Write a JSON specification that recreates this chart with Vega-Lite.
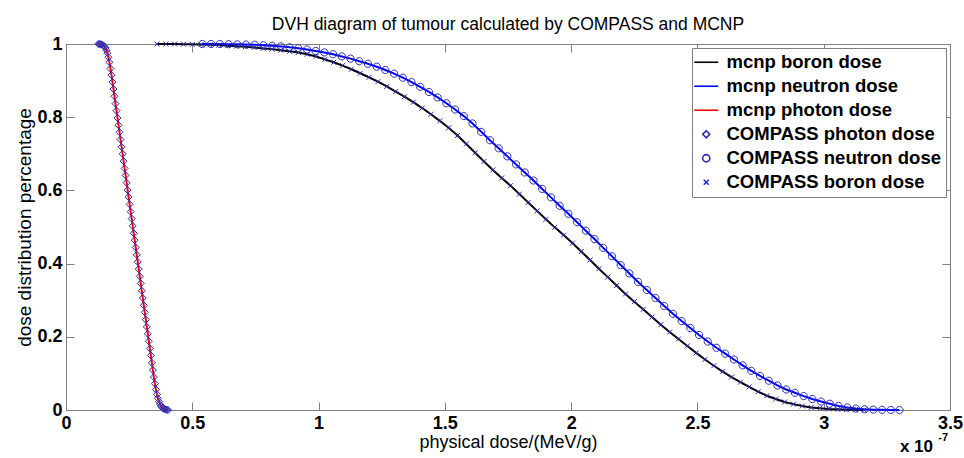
{
  "$schema": "https://vega.github.io/schema/vega-lite/v6.json",
  "width": 884,
  "height": 366,
  "autosize": "none",
  "padding": {"left": 66, "top": 44, "right": 14, "bottom": 48},
  "background": "white",
  "title": {"text": "DVH diagram of tumour calculated by COMPASS and MCNP", "font": "Liberation Sans", "fontSize": 17.5, "fontWeight": "normal", "color": "#000", "anchor": "middle", "offset": 2},
  "config": {
    "view": {"stroke": "#808080", "strokeWidth": 1},
    "axis": {"grid": false, "domainColor": "#808080", "tickColor": "#808080", "labelFont": "Liberation Sans", "labelFontWeight": "bold", "labelFontSize": 18, "labelColor": "#000", "titleFont": "Liberation Sans", "titleFontWeight": "normal", "titleFontSize": 18, "titleColor": "#000", "labelFlush": false},
    "legend": {"orient": "top-right", "offset": 4, "strokeColor": "#808080", "fillColor": "#ffffff", "padding": 5, "labelFont": "Liberation Sans", "labelFontWeight": "bold", "labelFontSize": 18.5, "labelColor": "#000", "labelOffset": 11, "rowPadding": 5, "cornerRadius": 0, "labelLimit": 400, "symbolSize": 100, "symbolStrokeWidth": 1.6}
  },
  "data": {"name": "dvh"},
  "datasets": {
    "dvh": [
      {"curve": "photon", "dose": 0.128, "frac": 1},
      {"curve": "photon", "dose": 0.132, "frac": 1},
      {"curve": "photon", "dose": 0.136, "frac": 0.9995},
      {"curve": "photon", "dose": 0.140, "frac": 0.999},
      {"curve": "photon", "dose": 0.144, "frac": 0.998},
      {"curve": "photon", "dose": 0.148, "frac": 0.996},
      {"curve": "photon", "dose": 0.152, "frac": 0.993},
      {"curve": "photon", "dose": 0.156, "frac": 0.989},
      {"curve": "photon", "dose": 0.160, "frac": 0.983},
      {"curve": "photon", "dose": 0.164, "frac": 0.975},
      {"curve": "photon", "dose": 0.168, "frac": 0.964},
      {"curve": "photon", "dose": 0.172, "frac": 0.950},
      {"curve": "photon", "dose": 0.176, "frac": 0.933},
      {"curve": "photon", "dose": 0.180, "frac": 0.915},
      {"curve": "photon", "dose": 0.184, "frac": 0.896},
      {"curve": "photon", "dose": 0.188, "frac": 0.877},
      {"curve": "photon", "dose": 0.192, "frac": 0.857},
      {"curve": "photon", "dose": 0.196, "frac": 0.837},
      {"curve": "photon", "dose": 0.200, "frac": 0.818},
      {"curve": "photon", "dose": 0.204, "frac": 0.798},
      {"curve": "photon", "dose": 0.208, "frac": 0.778},
      {"curve": "photon", "dose": 0.212, "frac": 0.759},
      {"curve": "photon", "dose": 0.216, "frac": 0.739},
      {"curve": "photon", "dose": 0.220, "frac": 0.719},
      {"curve": "photon", "dose": 0.224, "frac": 0.700},
      {"curve": "photon", "dose": 0.228, "frac": 0.680},
      {"curve": "photon", "dose": 0.232, "frac": 0.660},
      {"curve": "photon", "dose": 0.236, "frac": 0.641},
      {"curve": "photon", "dose": 0.240, "frac": 0.621},
      {"curve": "photon", "dose": 0.244, "frac": 0.601},
      {"curve": "photon", "dose": 0.248, "frac": 0.582},
      {"curve": "photon", "dose": 0.252, "frac": 0.562},
      {"curve": "photon", "dose": 0.256, "frac": 0.542},
      {"curve": "photon", "dose": 0.260, "frac": 0.523},
      {"curve": "photon", "dose": 0.264, "frac": 0.503},
      {"curve": "photon", "dose": 0.268, "frac": 0.483},
      {"curve": "photon", "dose": 0.272, "frac": 0.464},
      {"curve": "photon", "dose": 0.276, "frac": 0.444},
      {"curve": "photon", "dose": 0.280, "frac": 0.424},
      {"curve": "photon", "dose": 0.284, "frac": 0.405},
      {"curve": "photon", "dose": 0.288, "frac": 0.385},
      {"curve": "photon", "dose": 0.292, "frac": 0.365},
      {"curve": "photon", "dose": 0.296, "frac": 0.346},
      {"curve": "photon", "dose": 0.300, "frac": 0.326},
      {"curve": "photon", "dose": 0.304, "frac": 0.306},
      {"curve": "photon", "dose": 0.308, "frac": 0.286},
      {"curve": "photon", "dose": 0.312, "frac": 0.267},
      {"curve": "photon", "dose": 0.316, "frac": 0.247},
      {"curve": "photon", "dose": 0.320, "frac": 0.227},
      {"curve": "photon", "dose": 0.324, "frac": 0.208},
      {"curve": "photon", "dose": 0.328, "frac": 0.188},
      {"curve": "photon", "dose": 0.332, "frac": 0.168},
      {"curve": "photon", "dose": 0.336, "frac": 0.149},
      {"curve": "photon", "dose": 0.340, "frac": 0.129},
      {"curve": "photon", "dose": 0.344, "frac": 0.109},
      {"curve": "photon", "dose": 0.348, "frac": 0.090},
      {"curve": "photon", "dose": 0.352, "frac": 0.072},
      {"curve": "photon", "dose": 0.356, "frac": 0.056},
      {"curve": "photon", "dose": 0.360, "frac": 0.043},
      {"curve": "photon", "dose": 0.364, "frac": 0.032},
      {"curve": "photon", "dose": 0.368, "frac": 0.023},
      {"curve": "photon", "dose": 0.372, "frac": 0.016},
      {"curve": "photon", "dose": 0.376, "frac": 0.011},
      {"curve": "photon", "dose": 0.380, "frac": 0.008},
      {"curve": "photon", "dose": 0.384, "frac": 0.005},
      {"curve": "photon", "dose": 0.388, "frac": 0.003},
      {"curve": "photon", "dose": 0.392, "frac": 0.002},
      {"curve": "photon", "dose": 0.396, "frac": 0.001},
      {"curve": "photon", "dose": 0.400, "frac": 0.0005},
      {"curve": "photon", "dose": 0.404, "frac": 0},
      {"curve": "neutron", "dose": 0.540, "frac": 1},
      {"curve": "neutron", "dose": 0.5745, "frac": 1},
      {"curve": "neutron", "dose": 0.609, "frac": 1},
      {"curve": "neutron", "dose": 0.6435, "frac": 0.9995},
      {"curve": "neutron", "dose": 0.678, "frac": 0.999},
      {"curve": "neutron", "dose": 0.7125, "frac": 0.9985},
      {"curve": "neutron", "dose": 0.747, "frac": 0.998},
      {"curve": "neutron", "dose": 0.7815, "frac": 0.9967},
      {"curve": "neutron", "dose": 0.816, "frac": 0.9952},
      {"curve": "neutron", "dose": 0.8505, "frac": 0.9935},
      {"curve": "neutron", "dose": 0.885, "frac": 0.991},
      {"curve": "neutron", "dose": 0.9195, "frac": 0.9885},
      {"curve": "neutron", "dose": 0.954, "frac": 0.985},
      {"curve": "neutron", "dose": 0.9885, "frac": 0.981},
      {"curve": "neutron", "dose": 1.023, "frac": 0.977},
      {"curve": "neutron", "dose": 1.0575, "frac": 0.972},
      {"curve": "neutron", "dose": 1.092, "frac": 0.966},
      {"curve": "neutron", "dose": 1.1265, "frac": 0.960},
      {"curve": "neutron", "dose": 1.161, "frac": 0.953},
      {"curve": "neutron", "dose": 1.1955, "frac": 0.946},
      {"curve": "neutron", "dose": 1.230, "frac": 0.938},
      {"curve": "neutron", "dose": 1.2645, "frac": 0.929},
      {"curve": "neutron", "dose": 1.299, "frac": 0.919},
      {"curve": "neutron", "dose": 1.3335, "frac": 0.908},
      {"curve": "neutron", "dose": 1.368, "frac": 0.896},
      {"curve": "neutron", "dose": 1.4025, "frac": 0.883},
      {"curve": "neutron", "dose": 1.437, "frac": 0.869},
      {"curve": "neutron", "dose": 1.4715, "frac": 0.854},
      {"curve": "neutron", "dose": 1.506, "frac": 0.838},
      {"curve": "neutron", "dose": 1.5405, "frac": 0.821},
      {"curve": "neutron", "dose": 1.575, "frac": 0.803},
      {"curve": "neutron", "dose": 1.6095, "frac": 0.783},
      {"curve": "neutron", "dose": 1.644, "frac": 0.760},
      {"curve": "neutron", "dose": 1.6785, "frac": 0.737},
      {"curve": "neutron", "dose": 1.713, "frac": 0.715},
      {"curve": "neutron", "dose": 1.7475, "frac": 0.693},
      {"curve": "neutron", "dose": 1.782, "frac": 0.671},
      {"curve": "neutron", "dose": 1.8165, "frac": 0.649},
      {"curve": "neutron", "dose": 1.851, "frac": 0.627},
      {"curve": "neutron", "dose": 1.8855, "frac": 0.604},
      {"curve": "neutron", "dose": 1.920, "frac": 0.581},
      {"curve": "neutron", "dose": 1.9545, "frac": 0.558},
      {"curve": "neutron", "dose": 1.989, "frac": 0.536},
      {"curve": "neutron", "dose": 2.0235, "frac": 0.513},
      {"curve": "neutron", "dose": 2.058, "frac": 0.490},
      {"curve": "neutron", "dose": 2.0925, "frac": 0.467},
      {"curve": "neutron", "dose": 2.127, "frac": 0.443},
      {"curve": "neutron", "dose": 2.1615, "frac": 0.420},
      {"curve": "neutron", "dose": 2.196, "frac": 0.396},
      {"curve": "neutron", "dose": 2.2305, "frac": 0.373},
      {"curve": "neutron", "dose": 2.265, "frac": 0.350},
      {"curve": "neutron", "dose": 2.2995, "frac": 0.328},
      {"curve": "neutron", "dose": 2.334, "frac": 0.306},
      {"curve": "neutron", "dose": 2.3685, "frac": 0.284},
      {"curve": "neutron", "dose": 2.403, "frac": 0.263},
      {"curve": "neutron", "dose": 2.4375, "frac": 0.243},
      {"curve": "neutron", "dose": 2.472, "frac": 0.224},
      {"curve": "neutron", "dose": 2.5065, "frac": 0.205},
      {"curve": "neutron", "dose": 2.541, "frac": 0.187},
      {"curve": "neutron", "dose": 2.5755, "frac": 0.170},
      {"curve": "neutron", "dose": 2.610, "frac": 0.154},
      {"curve": "neutron", "dose": 2.6445, "frac": 0.138},
      {"curve": "neutron", "dose": 2.679, "frac": 0.122},
      {"curve": "neutron", "dose": 2.7135, "frac": 0.107},
      {"curve": "neutron", "dose": 2.748, "frac": 0.093},
      {"curve": "neutron", "dose": 2.7825, "frac": 0.080},
      {"curve": "neutron", "dose": 2.817, "frac": 0.067},
      {"curve": "neutron", "dose": 2.8515, "frac": 0.056},
      {"curve": "neutron", "dose": 2.886, "frac": 0.047},
      {"curve": "neutron", "dose": 2.9205, "frac": 0.038},
      {"curve": "neutron", "dose": 2.955, "frac": 0.030},
      {"curve": "neutron", "dose": 2.9895, "frac": 0.023},
      {"curve": "neutron", "dose": 3.024, "frac": 0.017},
      {"curve": "neutron", "dose": 3.0585, "frac": 0.011},
      {"curve": "neutron", "dose": 3.093, "frac": 0.007},
      {"curve": "neutron", "dose": 3.1275, "frac": 0.004},
      {"curve": "neutron", "dose": 3.162, "frac": 0.002},
      {"curve": "neutron", "dose": 3.1965, "frac": 0.001},
      {"curve": "neutron", "dose": 3.231, "frac": 0.0005},
      {"curve": "neutron", "dose": 3.2655, "frac": 0.0002},
      {"curve": "neutron", "dose": 3.300, "frac": 0},
      {"curve": "boron", "dose": 0.360, "frac": 1},
      {"curve": "boron", "dose": 0.395, "frac": 1},
      {"curve": "boron", "dose": 0.430, "frac": 1},
      {"curve": "boron", "dose": 0.465, "frac": 0.9995},
      {"curve": "boron", "dose": 0.500, "frac": 0.999},
      {"curve": "boron", "dose": 0.535, "frac": 0.9985},
      {"curve": "boron", "dose": 0.570, "frac": 0.9978},
      {"curve": "boron", "dose": 0.605, "frac": 0.997},
      {"curve": "boron", "dose": 0.640, "frac": 0.9955},
      {"curve": "boron", "dose": 0.675, "frac": 0.994},
      {"curve": "boron", "dose": 0.710, "frac": 0.9925},
      {"curve": "boron", "dose": 0.745, "frac": 0.9905},
      {"curve": "boron", "dose": 0.780, "frac": 0.988},
      {"curve": "boron", "dose": 0.815, "frac": 0.986},
      {"curve": "boron", "dose": 0.850, "frac": 0.983},
      {"curve": "boron", "dose": 0.885, "frac": 0.980},
      {"curve": "boron", "dose": 0.920, "frac": 0.977},
      {"curve": "boron", "dose": 0.955, "frac": 0.972},
      {"curve": "boron", "dose": 0.990, "frac": 0.966},
      {"curve": "boron", "dose": 1.025, "frac": 0.958},
      {"curve": "boron", "dose": 1.060, "frac": 0.950},
      {"curve": "boron", "dose": 1.095, "frac": 0.941},
      {"curve": "boron", "dose": 1.130, "frac": 0.931},
      {"curve": "boron", "dose": 1.165, "frac": 0.920},
      {"curve": "boron", "dose": 1.200, "frac": 0.909},
      {"curve": "boron", "dose": 1.235, "frac": 0.897},
      {"curve": "boron", "dose": 1.270, "frac": 0.884},
      {"curve": "boron", "dose": 1.305, "frac": 0.870},
      {"curve": "boron", "dose": 1.340, "frac": 0.856},
      {"curve": "boron", "dose": 1.375, "frac": 0.841},
      {"curve": "boron", "dose": 1.410, "frac": 0.825},
      {"curve": "boron", "dose": 1.445, "frac": 0.808},
      {"curve": "boron", "dose": 1.480, "frac": 0.790},
      {"curve": "boron", "dose": 1.515, "frac": 0.771},
      {"curve": "boron", "dose": 1.550, "frac": 0.750},
      {"curve": "boron", "dose": 1.585, "frac": 0.727},
      {"curve": "boron", "dose": 1.620, "frac": 0.703},
      {"curve": "boron", "dose": 1.655, "frac": 0.679},
      {"curve": "boron", "dose": 1.690, "frac": 0.656},
      {"curve": "boron", "dose": 1.725, "frac": 0.634},
      {"curve": "boron", "dose": 1.760, "frac": 0.613},
      {"curve": "boron", "dose": 1.795, "frac": 0.590},
      {"curve": "boron", "dose": 1.830, "frac": 0.567},
      {"curve": "boron", "dose": 1.865, "frac": 0.544},
      {"curve": "boron", "dose": 1.900, "frac": 0.521},
      {"curve": "boron", "dose": 1.935, "frac": 0.499},
      {"curve": "boron", "dose": 1.970, "frac": 0.478},
      {"curve": "boron", "dose": 2.005, "frac": 0.456},
      {"curve": "boron", "dose": 2.040, "frac": 0.433},
      {"curve": "boron", "dose": 2.075, "frac": 0.410},
      {"curve": "boron", "dose": 2.110, "frac": 0.386},
      {"curve": "boron", "dose": 2.145, "frac": 0.363},
      {"curve": "boron", "dose": 2.180, "frac": 0.340},
      {"curve": "boron", "dose": 2.215, "frac": 0.317},
      {"curve": "boron", "dose": 2.250, "frac": 0.296},
      {"curve": "boron", "dose": 2.285, "frac": 0.275},
      {"curve": "boron", "dose": 2.320, "frac": 0.254},
      {"curve": "boron", "dose": 2.355, "frac": 0.233},
      {"curve": "boron", "dose": 2.390, "frac": 0.213},
      {"curve": "boron", "dose": 2.425, "frac": 0.194},
      {"curve": "boron", "dose": 2.460, "frac": 0.175},
      {"curve": "boron", "dose": 2.495, "frac": 0.156},
      {"curve": "boron", "dose": 2.530, "frac": 0.138},
      {"curve": "boron", "dose": 2.565, "frac": 0.121},
      {"curve": "boron", "dose": 2.600, "frac": 0.105},
      {"curve": "boron", "dose": 2.635, "frac": 0.090},
      {"curve": "boron", "dose": 2.670, "frac": 0.076},
      {"curve": "boron", "dose": 2.705, "frac": 0.063},
      {"curve": "boron", "dose": 2.740, "frac": 0.050},
      {"curve": "boron", "dose": 2.775, "frac": 0.039},
      {"curve": "boron", "dose": 2.810, "frac": 0.030},
      {"curve": "boron", "dose": 2.845, "frac": 0.022},
      {"curve": "boron", "dose": 2.880, "frac": 0.016},
      {"curve": "boron", "dose": 2.915, "frac": 0.011},
      {"curve": "boron", "dose": 2.950, "frac": 0.007},
      {"curve": "boron", "dose": 2.985, "frac": 0.005},
      {"curve": "boron", "dose": 3.020, "frac": 0.003},
      {"curve": "boron", "dose": 3.055, "frac": 0.002},
      {"curve": "boron", "dose": 3.090, "frac": 0.001},
      {"curve": "boron", "dose": 3.125, "frac": 0.0005},
      {"curve": "boron", "dose": 3.160, "frac": 0}
    ]
  },
  "layer": [
    {
      "transform": [{"filter": "datum.curve === 'boron'"}],
      "mark": {"type": "line", "strokeWidth": 2},
      "encoding": {
        "x": {"field": "dose", "type": "quantitative", "scale": {"domain": [0, 3.5], "nice": false, "zero": false},
              "axis": {"orient": "bottom", "values": [0, 0.5, 1, 1.5, 2, 2.5, 3, 3.5], "format": "~g", "tickSize": -8, "labelPadding": 12, "title": "physical dose/(MeV/g)", "titlePadding": 1}},
        "y": {"field": "frac", "type": "quantitative", "scale": {"domain": [0, 1], "nice": false, "zero": false},
              "axis": {"orient": "left", "values": [0, 0.2, 0.4, 0.6, 0.8, 1], "format": "~g", "tickSize": -8, "labelPadding": 12, "title": "dose distribution percentage", "titlePadding": 2, "titleFontSize": 19}},
        "color": {"datum": "mcnp boron dose", "type": "nominal",
                  "scale": {"domain": ["mcnp boron dose", "mcnp neutron dose", "mcnp photon dose", "COMPASS photon dose", "COMPASS neutron dose", "COMPASS boron dose"],
                            "range": ["#000000", "#0000ff", "#ff0000", "#2b2bb8", "#2b2bb8", "#2b2bb8"]},
                  "legend": {"title": null}}
      }
    },
    {
      "transform": [{"filter": "datum.curve === 'neutron'"}],
      "mark": {"type": "line", "strokeWidth": 2},
      "encoding": {
        "x": {"field": "dose", "type": "quantitative", "axis": null},
        "y": {"field": "frac", "type": "quantitative", "axis": null},
        "color": {"datum": "mcnp neutron dose", "type": "nominal"}
      }
    },
    {
      "transform": [{"filter": "datum.curve === 'photon'"}],
      "mark": {"type": "line", "strokeWidth": 2},
      "encoding": {
        "x": {"field": "dose", "type": "quantitative", "axis": null},
        "y": {"field": "frac", "type": "quantitative", "axis": null},
        "color": {"datum": "mcnp photon dose", "type": "nominal"}
      }
    },
    {
      "transform": [{"filter": "datum.curve === 'photon'"}],
      "mark": {"type": "point", "filled": false, "opacity": 1, "size": 100, "strokeWidth": 1},
      "encoding": {
        "x": {"field": "dose", "type": "quantitative", "axis": null},
        "y": {"field": "frac", "type": "quantitative", "axis": null},
        "color": {"datum": "COMPASS photon dose", "type": "nominal"},
        "shape": {"datum": "COMPASS photon dose", "type": "nominal",
                  "scale": {"domain": ["mcnp boron dose", "mcnp neutron dose", "mcnp photon dose", "COMPASS photon dose", "COMPASS neutron dose", "COMPASS boron dose"],
                            "range": ["M-2.4,0L2.4,0", "M-2.4,0L2.4,0", "M-2.4,0L2.4,0", "M0,-0.7L0.7,0L0,0.7L-0.7,0Z", "M0.72,0A0.72,0.72,0,1,1,-0.72,0A0.72,0.72,0,1,1,0.72,0Z", "M-0.5,-0.5L0.5,0.5M-0.5,0.5L0.5,-0.5"]},
                  "legend": {"title": null}}
      }
    },
    {
      "transform": [{"filter": "datum.curve === 'neutron'"}],
      "mark": {"type": "point", "filled": false, "opacity": 1, "size": 100, "strokeWidth": 1},
      "encoding": {
        "x": {"field": "dose", "type": "quantitative", "axis": null},
        "y": {"field": "frac", "type": "quantitative", "axis": null},
        "color": {"datum": "COMPASS neutron dose", "type": "nominal"},
        "shape": {"datum": "COMPASS neutron dose", "type": "nominal"}
      }
    },
    {
      "transform": [{"filter": "datum.curve === 'boron'"}],
      "mark": {"type": "point", "filled": false, "opacity": 1, "size": 100, "strokeWidth": 1},
      "encoding": {
        "x": {"field": "dose", "type": "quantitative", "axis": null},
        "y": {"field": "frac", "type": "quantitative", "axis": null},
        "color": {"datum": "COMPASS boron dose", "type": "nominal"},
        "shape": {"datum": "COMPASS boron dose", "type": "nominal"}
      }
    },
    {
      "data": {"values": [{"note": "x 10"}]},
      "mark": {"type": "text", "align": "right", "baseline": "alphabetic", "dx": -17, "dy": 42, "font": "Liberation Sans", "fontWeight": "bold", "fontSize": 17, "color": "#000"},
      "encoding": {
        "text": {"field": "note"},
        "x": {"datum": 3.5, "type": "quantitative", "axis": {"orient": "top", "values": [0, 0.5, 1, 1.5, 2, 2.5, 3, 3.5], "labels": false, "domain": false, "tickSize": -8, "title": null}},
        "y": {"datum": 0, "type": "quantitative", "axis": {"orient": "right", "values": [0, 0.2, 0.4, 0.6, 0.8, 1], "labels": false, "domain": false, "tickSize": -8, "title": null}}
      }
    },
    {
      "data": {"values": [{"note": "-7"}]},
      "mark": {"type": "text", "align": "right", "baseline": "alphabetic", "dx": -2, "dy": 31, "font": "Liberation Sans", "fontWeight": "bold", "fontSize": 11, "color": "#000"},
      "encoding": {
        "text": {"field": "note"},
        "x": {"datum": 3.5, "type": "quantitative", "axis": null},
        "y": {"datum": 0, "type": "quantitative", "axis": null}
      }
    }
  ],
  "resolve": {"axis": {"x": "independent", "y": "independent"}}
}
